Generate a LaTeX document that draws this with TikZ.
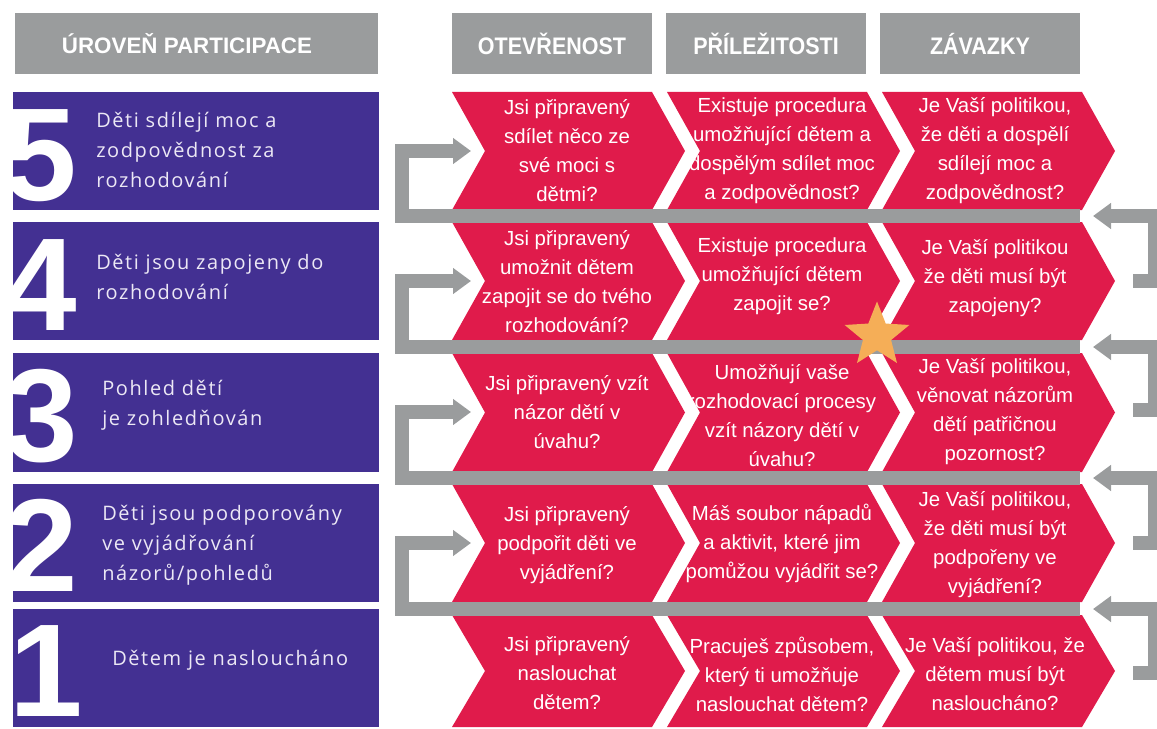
\documentclass[tikz,border=0pt]{standalone}
\usepackage{fontspec}
\setmainfont{Liberation Sans}
\newfontfamily\levelfont[LetterSpace=8]{Open Sans}
\newfontfamily\narrowfont[FakeStretch=0.9]{Liberation Sans}
\usetikzlibrary{arrows.meta,shapes.geometric}
\definecolor{headgray}{HTML}{9A9C9D}
\definecolor{levelpurple}{HTML}{433092}
\definecolor{askred}{HTML}{E01B4B}
\definecolor{starorange}{HTML}{F5AE57}
\definecolor{labelwhite}{HTML}{ECE8F5}
\begin{document}
\begin{tikzpicture}[x=0.025cm,y=-0.025cm,
    head/.style={fill=headgray,text=white,minimum height=1.525cm,inner sep=0pt},
    level/.style={fill=levelpurple,minimum width=9.15cm,minimum height=2.95cm,inner sep=0pt},
    digit/.style={text=white,inner sep=0pt,anchor=base west,font=\bfseries\fontsize{94}{94}\selectfont},
    levellabel/.style={text=labelwhite,anchor=west,align=left,inner sep=0pt,font=\levelfont\fontsize{14.2}{21.3}\selectfont},
    ask/.style={text=white,align=center,inner sep=0pt,font=\fontsize{14.5}{20.6}\selectfont},
    flow/.style={draw=headgray,line width=0.35cm,-{Triangle[length=0.45cm,width=0.625cm]}}]
  \useasboundingbox (0,0) rectangle (1157,729);
  \node[head,minimum width=9.075cm] (hlevel) at (196.5,43.5) {};
  \node[text=white,inner sep=0pt,font=\bfseries\fontsize{15.9}{18}\selectfont] (hleveltext) at (187,43.5) {ÚROVEŇ PARTICIPACE};
  \node[head,minimum width=5cm,font=\narrowfont\bfseries\fontsize{17}{20}\selectfont] (hopen) at (552,43.5) {OTEVŘENOST};
  \node[head,minimum width=5cm,font=\narrowfont\bfseries\fontsize{17}{20}\selectfont] (hchance) at (766,43.5) {PŘÍLEŽITOSTI};
  \node[head,minimum width=5cm,font=\narrowfont\bfseries\fontsize{17}{20}\selectfont] (hduty) at (980,43.5) {ZÁVAZKY};
  \foreach \n/\c/\b/\x in {5/151/200/3,4/281/330/3,3/412.5/461/4,2/543/591/4,1/668/716/9}{
    \node[level] (lvl\n) at (196,\c) {};
    \begin{scope}
      \clip (lvl\n.south west) rectangle (lvl\n.north east);
      \node[digit] (num\n) at (\x,\b) {\n};
    \end{scope}
  }
  \node[levellabel] (t5) at (96,150) {Děti sdílejí moc a\\zodpovědnost za\\rozhodování};
  \node[levellabel] (t4) at (96,277) {Děti jsou zapojeny do\\rozhodování};
  \node[levellabel] (t3) at (102,405) {Pohled dětí\\je zohledňován};
  \node[levellabel] (t2) at (102,545) {Děti jsou podporovány\\ve vyjádřování\\názorů/pohledů};
  \node[levellabel] (t1) at (112,660) {Dětem je nasloucháno};
  \foreach \l in {452,667,882}
    \foreach \t/\b in {92/210,222/340,353/472,484/602,615/727}
      \fill[askred] (\l,\t) -- ++(200,0) -- (\l+233,{(\t+\b)/2}) -- (\l+200,\b) -- (\l,\b) -- (\l+33,{(\t+\b)/2}) -- cycle;
  \node[ask] (o5) at (567,151) {Jsi připravený\\sdílet něco ze\\své moci s\\dětmi?};
  \node[ask] (p5) at (782,151) {Existuje procedura\\umožňující dětem a\\dospělým sdílet moc\\a zodpovědnost?};
  \node[ask] (z5) at (995,151) {Je Vaší politikou,\\že děti a dospělí\\sdílejí moc a\\zodpovědnost?};
  \node[ask] (o4) at (567,282) {Jsi připravený\\umožnit dětem\\zapojit se do tvého\\rozhodování?};
  \node[ask] (p4) at (782,276) {Existuje procedura\\umožňující dětem\\zapojit se?};
  \node[ask] (z4) at (995,278) {Je Vaší politikou\\že děti musí být\\zapojeny?};
  \node[ask] (o3) at (567,412) {Jsi připravený vzít\\názor dětí v\\úvahu?};
  \node[ask] (p3) at (782,416) {Umožňují vaše\\rozhodovací procesy\\vzít názory dětí v\\úvahu?};
  \node[ask] (z3) at (995,412) {Je Vaší politikou,\\věnovat názorům\\dětí patřičnou\\pozornost?};
  \node[ask] (o2) at (567,545) {Jsi připravený\\podpořit děti ve\\vyjádření?};
  \node[ask] (p2) at (782,543) {Máš soubor nápadů\\a aktivit, které jim\\pomůžou vyjádřit se?};
  \node[ask] (z2) at (995,545) {Je Vaší politikou,\\že děti musí být\\podpořeny ve\\vyjádření?};
  \node[ask] (o1) at (567,673) {Jsi připravený\\naslouchat\\dětem?};
  \node[ask] (p1) at (782,674) {Pracuješ způsobem,\\který ti umožňuje\\naslouchat dětem?};
  \node[ask] (z1) at (995,674) {Je Vaší politikou, že\\dětem musí být\\nasloucháno?};
  \coordinate (in5) at (471,151);
  \coordinate (in4) at (471,281);
  \coordinate (in3) at (471,412);
  \coordinate (in2) at (471,543);
  \coordinate (bar4) at (1080,216);
  \coordinate (bar3) at (1080,347);
  \coordinate (bar2) at (1080,478);
  \coordinate (bar1) at (1080,609);
  \draw[flow] (bar4) -- ++(-678,0) |- (in5);
  \draw[flow] (bar3) -- ++(-678,0) |- (in4);
  \draw[flow] (bar2) -- ++(-678,0) |- (in3);
  \draw[flow] (bar1) -- ++(-678,0) |- (in2);
  \coordinate (out4) at (1133,281);
  \coordinate (out3) at (1133,410);
  \coordinate (out2) at (1133,543);
  \coordinate (out1) at (1133,673);
  \coordinate (back4) at (1093,216);
  \coordinate (back3) at (1093,347);
  \coordinate (back2) at (1093,478);
  \coordinate (back1) at (1093,609);
  \draw[flow] (out4) -- ++(22,0) |- (back4);
  \draw[flow] (out3) -- ++(22,0) |- (back3);
  \draw[flow] (out2) -- ++(22,0) |- (back2);
  \draw[flow] (out1) -- ++(22,0) |- (back1);
  \node[star,star points=5,star point ratio=2.3,fill=starorange,inner sep=0pt,minimum size=1.7cm] (mark) at (877,335.5) {};
\end{tikzpicture}
\end{document}
